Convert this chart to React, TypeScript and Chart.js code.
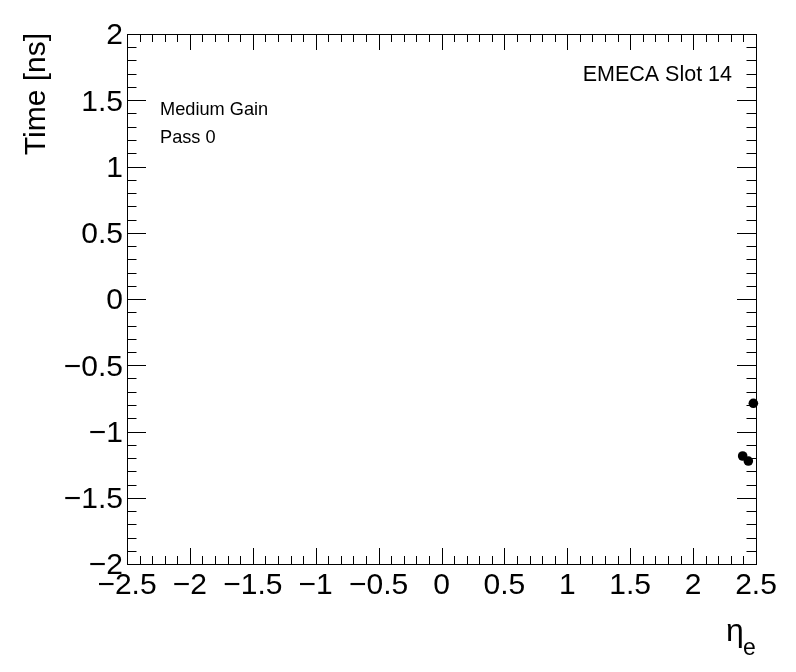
import React, { useEffect, useRef } from "react";
import { Chart, registerables } from "chart.js";

Chart.register(...registerables);

// Data
const etaValues = [2.394, 2.439, 2.479];
const timeValues = [-1.185, -1.223, -0.787];

// Axis definition
const xMin = -2.5;
const xMax = 2.5;
const yMin = -2;
const yMax = 2;
const xMajorTicks = [-2.5, -2, -1.5, -1, -0.5, 0, 0.5, 1, 1.5, 2, 2.5];
const xTickLabels = ["\u22122.5", "\u22122", "\u22121.5", "\u22121", "\u22120.5", "0", "0.5", "1", "1.5", "2", "2.5"];
const yMajorTicks = [-2, -1.5, -1, -0.5, 0, 0.5, 1, 1.5, 2];
const yTickLabels = ["\u22122", "\u22121.5", "\u22121", "\u22120.5", "0", "0.5", "1", "1.5", "2"];
const minorStep = 0.1;

const yTitle = "Time [ns]";
const xTitleMain = "\u03b7";
const xTitleSub = "e";
const infoLines = ["Medium Gain", "Pass 0"];
const cornerLabel = "EMECA Slot 14";

const FONT = '"Liberation Sans", Arial, Helvetica, sans-serif';

const rootStylePlugin = {
  id: "rootStyle",
  afterDraw(chart: any) {
    const ctx: CanvasRenderingContext2D = chart.ctx;
    const xs = chart.scales.x;
    const ys = chart.scales.y;
    const { left, right, top, bottom } = chart.chartArea;
    ctx.save();
    ctx.fillStyle = "#000";
    ctx.strokeStyle = "#000";
    ctx.lineWidth = 1;
    // frame
    ctx.strokeRect(Math.round(left) + 0.5, Math.round(top) + 0.5, Math.round(right - left), Math.round(bottom - top));

    const xMajLen = 16, xMinLen = 8, yMajLen = 19, yMinLen = 9.5;
    const nX = Math.round((xMax - xMin) / minorStep);
    for (let i = 0; i <= nX; i++) {
      const v = xMin + i * minorStep;
      const isMajor = i % 5 === 0;
      const len = isMajor ? xMajLen : xMinLen;
      const px = Math.round(xs.getPixelForValue(v)) + 0.5;
      ctx.beginPath();
      ctx.moveTo(px, bottom);
      ctx.lineTo(px, bottom - len);
      ctx.moveTo(px, top);
      ctx.lineTo(px, top + len);
      ctx.stroke();
    }
    const nY = Math.round((yMax - yMin) / minorStep);
    for (let i = 0; i <= nY; i++) {
      const v = yMin + i * minorStep;
      const isMajor = i % 5 === 0;
      const len = isMajor ? yMajLen : yMinLen;
      const py = Math.round(ys.getPixelForValue(v)) + 0.5;
      ctx.beginPath();
      ctx.moveTo(left, py);
      ctx.lineTo(left + len, py);
      ctx.moveTo(right, py);
      ctx.lineTo(right - len, py);
      ctx.stroke();
    }

    // tick labels
    ctx.font = `30px ${FONT}`;
    ctx.textAlign = "right";
    ctx.textBaseline = "middle";
    yMajorTicks.forEach((v, i) => {
      ctx.fillText(yTickLabels[i], left - 4, ys.getPixelForValue(v) + 2);
    });
    ctx.textAlign = "center";
    xMajorTicks.forEach((v, i) => {
      ctx.fillText(xTickLabels[i], xs.getPixelForValue(v), bottom + 22);
    });

    // y title
    ctx.save();
    ctx.translate(37, top - 1);
    ctx.rotate(-Math.PI / 2);
    ctx.textAlign = "right";
    ctx.textBaseline = "middle";
    ctx.font = `30px ${FONT}`;
    ctx.fillText(yTitle, 0, 0);
    ctx.restore();

    // x title
    ctx.textAlign = "left";
    ctx.textBaseline = "alphabetic";
    ctx.font = `32px ${FONT}`;
    ctx.fillText(xTitleMain, 726, 641);
    ctx.font = `23px ${FONT}`;
    ctx.fillText(xTitleSub, 743, 655);

    // annotations
    ctx.font = `18.2px ${FONT}`;
    ctx.fillText(infoLines[0], 160, 115);
    ctx.fillText(infoLines[1], 160, 143);
    ctx.textAlign = "right";
    ctx.font = `21.5px ${FONT}`;
    ctx.fillText(cornerLabel, 732, 81);
    ctx.restore();
  },
};

export default function App() {
  const ref = useRef<HTMLCanvasElement | null>(null);
  useEffect(() => {
    if (!ref.current) return;
    const chart = new Chart(ref.current, {
      type: "scatter",
      data: {
        datasets: [
          {
            data: etaValues.map((x, i) => ({ x, y: timeValues[i] })),
            backgroundColor: "#000",
            borderColor: "#000",
            pointRadius: 4.8,
            pointHoverRadius: 4.8,
            borderWidth: 0,
            clip: false as any,
          },
        ],
      },
      options: {
        responsive: false,
        animation: false,
        devicePixelRatio: 1,
        layout: { padding: { left: 127, top: 34, right: 40, bottom: 108 } },
        plugins: { legend: { display: false }, tooltip: { enabled: false } },
        events: [],
        scales: {
          x: { type: "linear", min: xMin, max: xMax, display: false },
          y: { type: "linear", min: yMin, max: yMax, display: false },
        },
      },
      plugins: [rootStylePlugin],
    });
    return () => chart.destroy();
  }, []);
  return (
    <div style={{ position: "absolute", left: 0, top: 0, width: 796, height: 672, background: "#fff" }}>
      <canvas ref={ref} width={796} height={672} style={{ display: "block" }} />
    </div>
  );
}
